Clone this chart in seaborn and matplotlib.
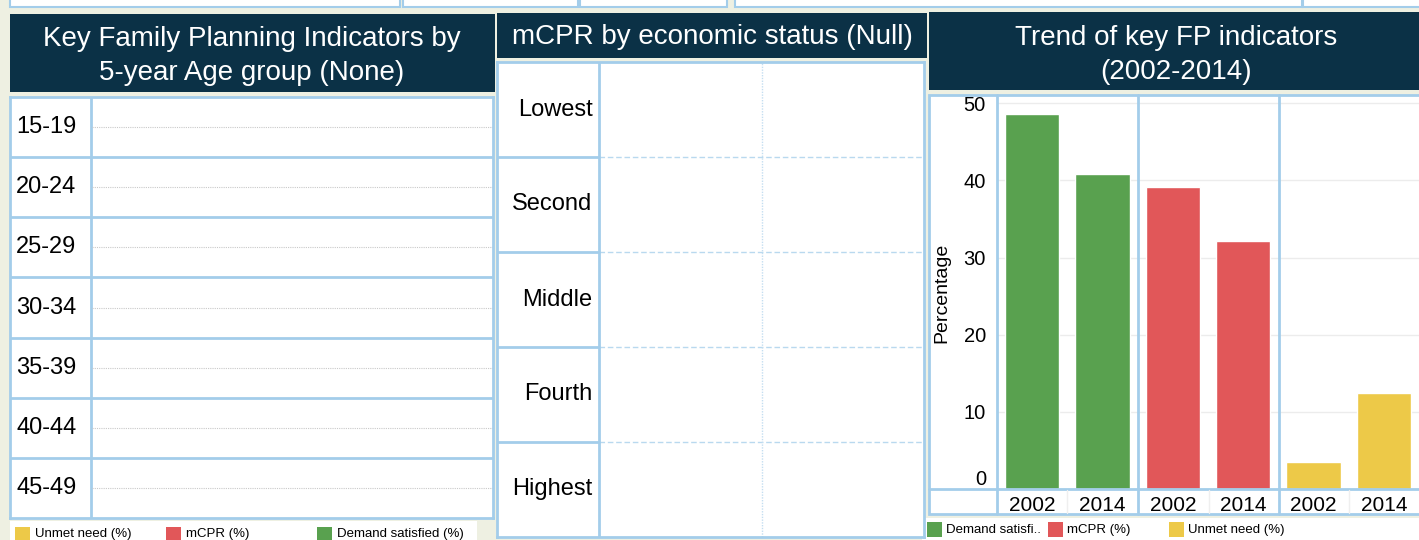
import pandas as pd
import matplotlib.pyplot as plt
from matplotlib.patches import Rectangle
from matplotlib.lines import Line2D
import seaborn as sns

W, H = 1419, 540

# chart data
age_groups = ['15-19', '20-24', '25-29', '30-34', '35-39', '40-44', '45-49']
wealth_quintiles = ['Lowest', 'Second', 'Middle', 'Fourth', 'Highest']
indicators = ['Demand satisfied (%)', 'mCPR (%)', 'Unmet need (%)']
years = ['2002', '2014']
demand_satisfied = [48.6, 40.8]
mcpr = [39.2, 32.1]
unmet_need = [3.5, 12.5]
indicator_colors = ['#59a14f', '#e15759', '#edc948']
left_legend = ['Unmet need (%)', 'mCPR (%)', 'Demand satisfied (%)']
left_legend_colors = ['#edc948', '#e15759', '#59a14f']
right_legend = ['Demand satisfi..', 'mCPR (%)', 'Unmet need (%)']
right_legend_colors = ['#59a14f', '#e15759', '#edc948']

rows = []
for name, vals in zip(indicators, [demand_satisfied, mcpr, unmet_need]):
    for yr, v in zip(years, vals):
        rows.append({'indicator': name, 'year': yr, 'value': v})
df = pd.DataFrame(rows)
df['slot'] = df['indicator'] + ' ' + df['year']

sns.set_style('white')
plt.rcParams['font.family'] = ['Liberation Sans', 'DejaVu Sans']
plt.rcParams['text.color'] = 'black'
plt.rcParams['axes.labelcolor'] = 'black'
plt.rcParams['xtick.color'] = 'black'
plt.rcParams['ytick.color'] = 'black'

NAVY = '#0b3146'
BLUE = '#a3cdea'
BG = '#eef0e2'

fig = plt.figure(figsize=(W / 100, H / 100), dpi=100, facecolor=BG)


def px_box(x0, y0, x1, y1, **kw):
    kw.setdefault('zorder', -5)
    fig.add_artist(Rectangle((x0 / W, 1 - y1 / H), (x1 - x0) / W, (y1 - y0) / H,
                             transform=fig.transFigure, **kw))


def px_line(xs, ys, **kw):
    kw.setdefault('color', BLUE)
    kw.setdefault('lw', 2)
    kw.setdefault('zorder', 5)
    fig.add_artist(Line2D([x / W for x in xs], [1 - y / H for y in ys],
                          transform=fig.transFigure, **kw))


def px_axes(x0, y0, x1, y1):
    return fig.add_axes([x0 / W, 1 - y1 / H, (x1 - x0) / W, (y1 - y0) / H])


def px_text(x, y, s, **kw):
    fig.text(x / W, 1 - y / H, s, **kw)


# strip of the panels above
for x0, x1 in [(10, 400), (403, 578), (580, 727), (735, 1302), (1303, 1430)]:
    px_box(x0, -5, x1, 7, fc='white', ec=BLUE, lw=1.5)

# title bands
px_box(10, 14, 495, 92, fc=NAVY, ec='none')
px_text(252, 56, 'Key Family Planning Indicators by\n5-year Age group (None)',
        color='white', fontsize=20, ha='center', va='center', linespacing=1.38)
px_box(497, 13, 927, 58, fc=NAVY, ec='none')
px_text(712, 37, 'mCPR by economic status (Null)',
        color='white', fontsize=20, ha='center', va='center')
px_box(929, 12, 1430, 90, fc=NAVY, ec='none')
px_text(1176, 55, 'Trend of key FP indicators\n(2002-2014)',
        color='white', fontsize=20, ha='center', va='center', linespacing=1.38)

# left panel: age groups (no data)
ax_age = px_axes(10, 97, 493, 518)
ax_age.set_xlim(0, 1)
ax_age.set_ylim(len(age_groups) - 0.5, -0.5)
col = (91 - 10) / (493 - 10)
for k in range(1, len(age_groups)):
    ax_age.axhline(k - 0.5, color=BLUE, lw=2)
ax_age.axvline(col, color=BLUE, lw=2)
ax_age.hlines(range(len(age_groups)), col + 0.003, 1, colors='#c9c9c9',
              linestyles=(0, (1, 1)), lw=0.8)
for i, lab in enumerate(age_groups):
    ax_age.text(0.013, i, lab, ha='left', va='center', fontsize=17)
ax_age.set_xticks([])
ax_age.set_yticks([])
for sp in ax_age.spines.values():
    sp.set_color(BLUE)
    sp.set_linewidth(2)

# middle panel: economic status (no data)
ax_eco = px_axes(497, 62, 924, 537)
ax_eco.set_xlim(0, 1)
ax_eco.set_ylim(len(wealth_quintiles) - 0.5, -0.5)
col = (599 - 497) / (924 - 497)
for k in range(1, len(wealth_quintiles)):
    ax_eco.plot([0, col], [k - 0.5, k - 0.5], color=BLUE, lw=2)
    ax_eco.plot([col, 1], [k - 0.5, k - 0.5], color='#b9d9ef', lw=1,
                ls=(0, (4, 2)))
ax_eco.axvline(col, color=BLUE, lw=2)
ax_eco.axvline((762 - 497) / (924 - 497), color='#c4def1', lw=1, ls=(0, (1, 1)))
for i, lab in enumerate(wealth_quintiles):
    ax_eco.text(col - 0.015, i, lab, ha='right', va='center', fontsize=17)
ax_eco.set_xticks([])
ax_eco.set_yticks([])
for sp in ax_eco.spines.values():
    sp.set_color(BLUE)
    sp.set_linewidth(2)

# right panel: trend bars
px_box(929, 95, 1430, 514, fc='white', ec=BLUE, lw=2)
ax = px_axes(997, 97, 1419, 489)
ax.set_facecolor('none')
sns.barplot(data=df, x='slot', y='value', hue='indicator', hue_order=indicators,
            palette=indicator_colors, dodge=False, width=0.77, saturation=1,
            legend=False, ax=ax)
ax.set_xlim(-0.5, len(df) - 0.5)
ax.set_ylim(0, 50.8)
ax.set_yticks([0, 10, 20, 30, 40, 50])
ax.set_xticks(range(len(df)))
ax.set_xticklabels(df['year'])
ax.yaxis.grid(True, color='#ececec', lw=1)
ax.set_axisbelow(True)
ax.tick_params(axis='y', length=0, labelsize=14.5, pad=8)
ax.tick_params(axis='x', length=0, labelsize=15, pad=5)
ax.set_xlabel('')
ax.set_ylabel('Percentage', fontsize=14)
ax.yaxis.set_label_coords((950 - 997) / (1419 - 997), 0.5)
for sp in ax.spines.values():
    sp.set_visible(False)
ax.yaxis.get_major_ticks()[0].label1.set_va('bottom')

px_line([997, 997], [95, 514])
px_line([929, 1430], [489, 489])
for x in [1138, 1279]:
    px_line([x, x], [95, 514])
for x in [1067, 1209, 1349]:
    px_line([x, x], [490, 513], color='#efefef', lw=1)

# legends
px_box(10, 521, 477, 545, fc='white', ec='none')
for x, lab, c in zip([15, 166, 317], left_legend, left_legend_colors):
    px_box(x, 527, x + 15, 541, fc=c, ec='none', zorder=1)
    px_text(x + 20, 534, lab, fontsize=9.5, va='center', ha='left')

px_box(922, 518, 1430, 545, fc='white', ec='none')
for x, lab, c in zip([927, 1048, 1169], right_legend, right_legend_colors):
    px_box(x, 522, x + 15, 537, fc=c, ec='none', zorder=1)
    px_text(x + 19, 530, lab, fontsize=9.5, va='center', ha='left')

fig.savefig('out.png', dpi=100, facecolor=BG)
